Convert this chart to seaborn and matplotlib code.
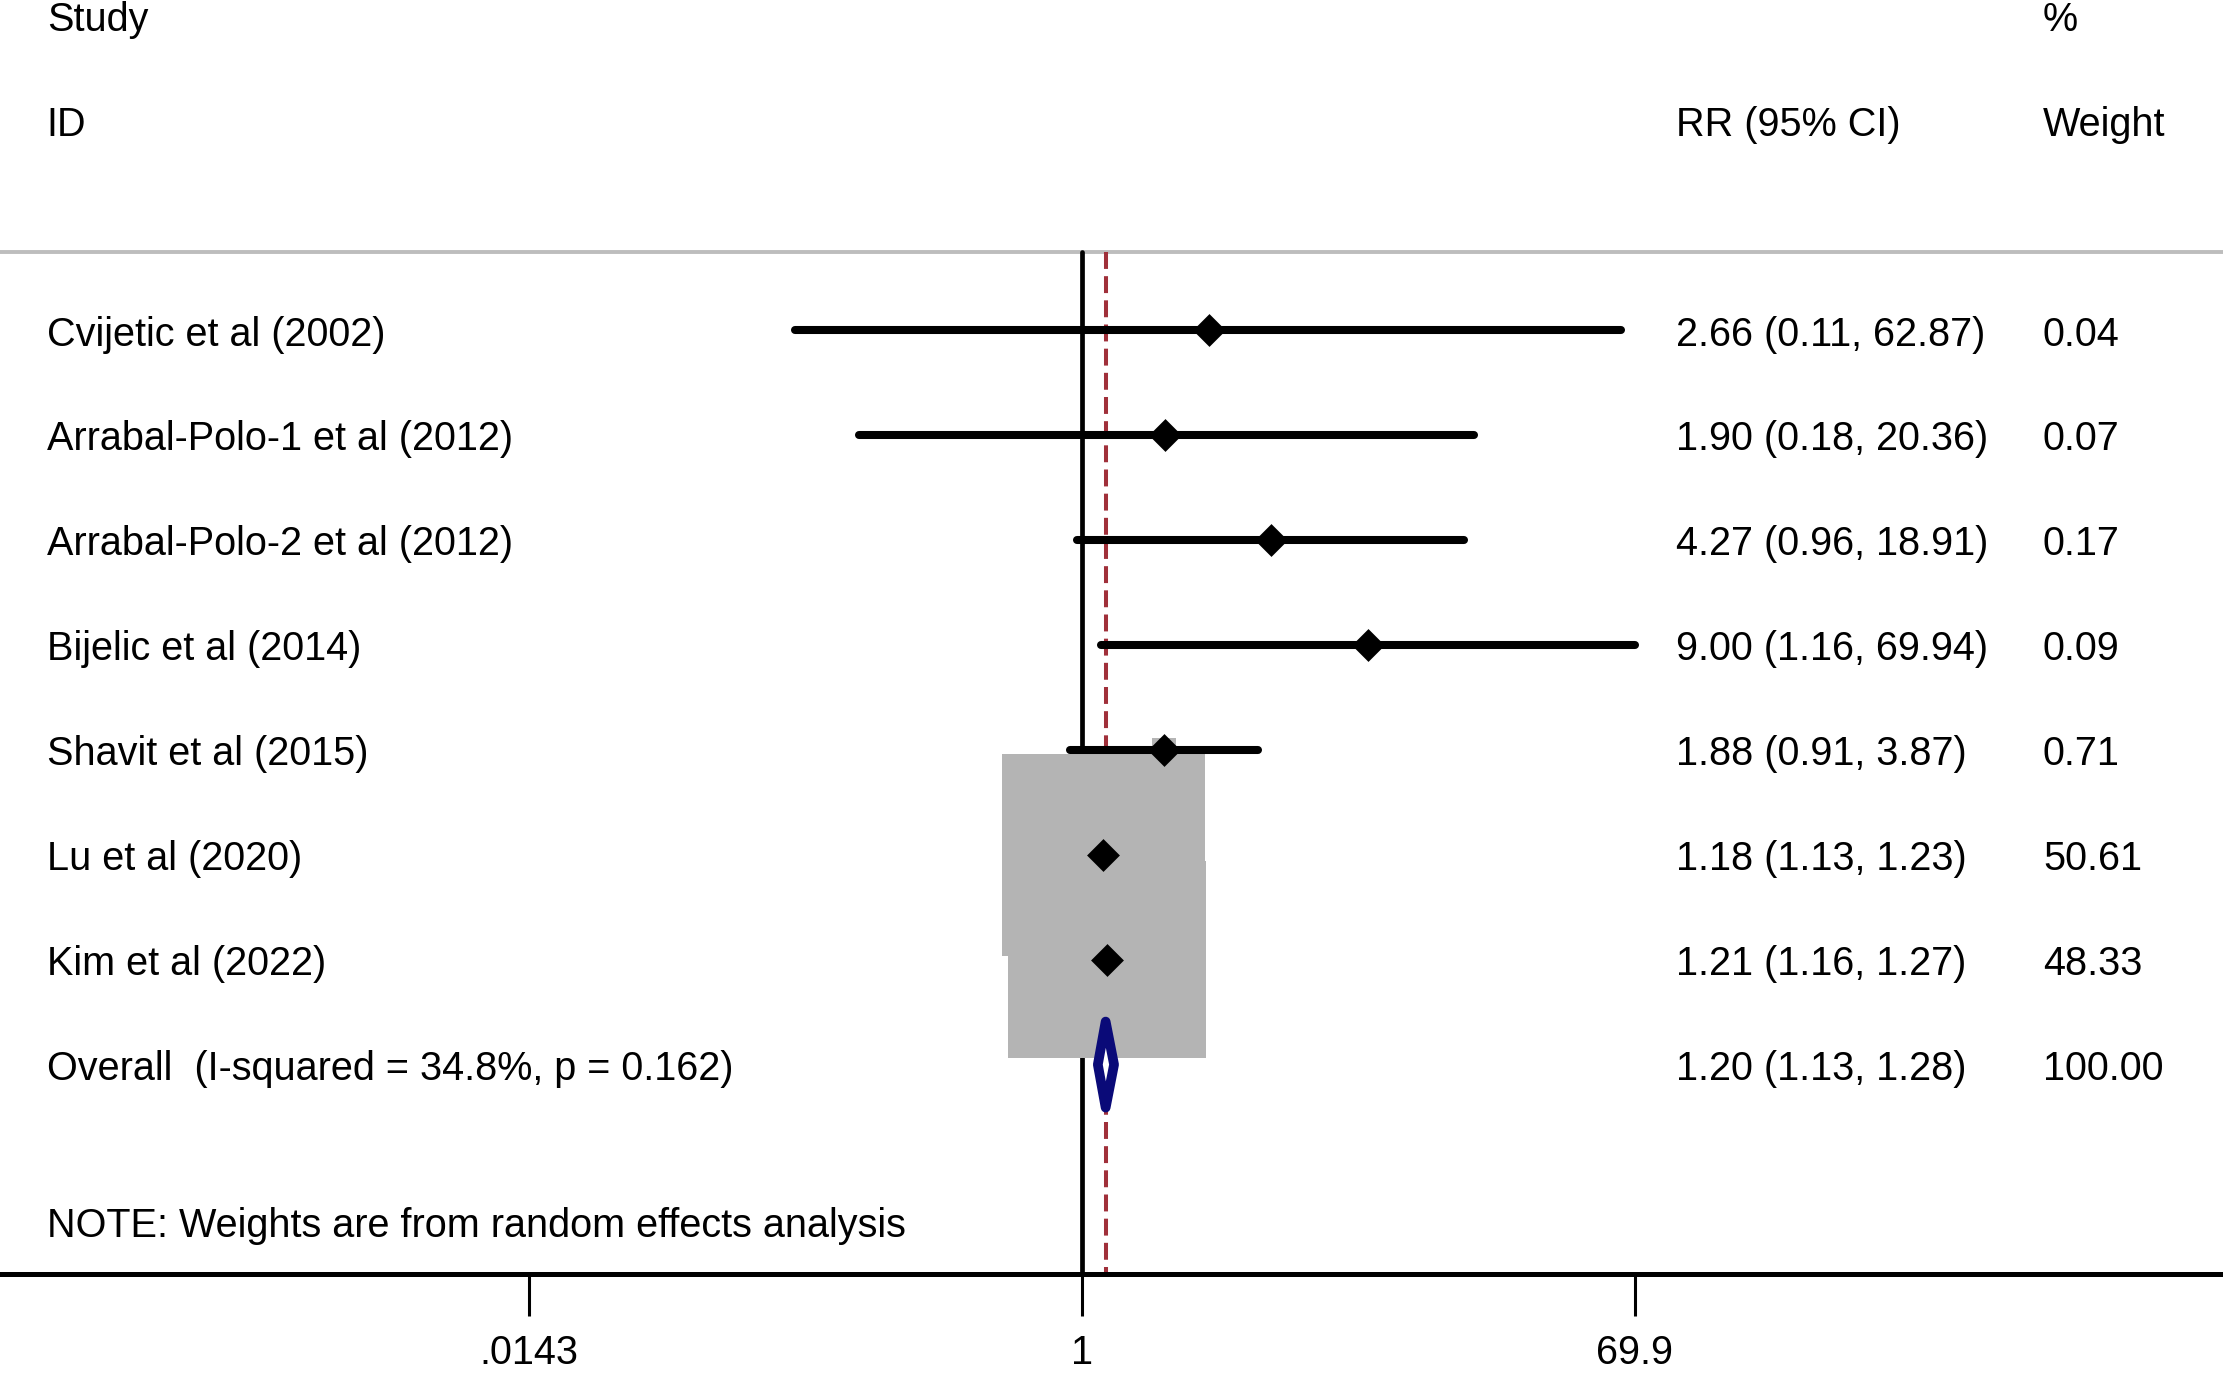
import numpy as np
import pandas as pd
import seaborn as sns
import matplotlib.pyplot as plt
from matplotlib.patches import Rectangle
from matplotlib.transforms import blended_transform_factory

studies = [
    "Cvijetic et al (2002)",
    "Arrabal-Polo-1 et al (2012)",
    "Arrabal-Polo-2 et al (2012)",
    "Bijelic et al (2014)",
    "Shavit et al (2015)",
    "Lu et al (2020)",
    "Kim et al (2022)",
]
rr = [2.66, 1.90, 4.27, 9.00, 1.88, 1.18, 1.21]
ci_low = [0.11, 0.18, 0.96, 1.16, 0.91, 1.13, 1.16]
ci_high = [62.87, 20.36, 18.91, 69.94, 3.87, 1.23, 1.27]
weights = [0.04, 0.07, 0.17, 0.09, 0.71, 50.61, 48.33]

overall_label = "Overall  (I-squared = 34.8%, p = 0.162)"
overall_rr = 1.20
overall_low = 1.13
overall_high = 1.28
overall_weight = 100.00

tick_values = [0.0143, 1, 69.9]
tick_labels = [".0143", "1", "69.9"]
note = "NOTE: Weights are from random effects analysis"

df = pd.DataFrame({"study": studies, "rr": rr, "lo": ci_low, "hi": ci_high, "w": weights})
df["row"] = np.arange(len(df))
overall_row = len(df)

sns.set_theme(style="white")
plt.rcParams["font.family"] = ["Liberation Sans", "DejaVu Sans"]
plt.rcParams["text.color"] = "black"
FS = 28.5
DY = 0.04  # text sits a hair below the marker row

fig = plt.figure(figsize=(22.23, 13.74), dpi=100)
ax = fig.add_axes([0, 0, 1, 1])
ax.set_xscale("log")
ax.set_xlim(2.45e-4, 6430)
ax.set_ylim(9.95, -3.15)

# weight boxes (area ~ weight)
wmax = max(weights)
for _, r in df.iterrows():
    f = np.sqrt(r["w"] / wmax)
    hw = 0.779 * f
    hh = 0.96 * f
    x0 = r["rr"] * np.exp(-hw)
    x1 = r["rr"] * np.exp(hw)
    ax.add_patch(Rectangle((x0, r["row"] - hh), x1 - x0, 2 * hh,
                           facecolor="#b4b4b4", edgecolor="none", zorder=3))

# reference lines
ax.plot([1, 1], [-0.75, 9], color="black", lw=3.4, zorder=2)
ax.plot([overall_rr, overall_rr], [-0.75, 9], color="#a0303a", lw=2.9,
        linestyle=(0, (4.2, 1.8)), zorder=2)
ax.axhline(-0.75, color="#bdbdbd", lw=2.8, zorder=1)

# confidence intervals + point estimates
ax.hlines(df["row"], df["lo"], df["hi"], color="black", lw=5.8, capstyle="round", zorder=4)
sns.scatterplot(data=df, x="rr", y="row", marker="D", s=280, color="black",
                edgecolor="black", linewidth=0, ax=ax, zorder=5, legend=False)

# overall diamond
dh = 0.41
ax.fill([overall_low, overall_rr, overall_high, overall_rr],
        [overall_row, overall_row - dh, overall_row, overall_row + dh],
        facecolor="white", edgecolor="#0a0a78", lw=7, joinstyle="round", zorder=6)

# text columns
tr = blended_transform_factory(ax.transAxes, ax.transData)
x_lab, x_rr, x_w = 0.021, 0.7538, 0.919


def put(x, y, s):
    ax.text(x, y + DY, s, transform=tr, fontsize=FS, va="center", color="black")


put(x_lab, -3, "Study")
put(x_lab, -2, "ID")
put(x_rr, -2, "RR (95% CI)")
put(x_w, -3, "%")
put(x_w, -2, "Weight")

for _, r in df.iterrows():
    put(x_lab, r["row"], r["study"])
    put(x_rr, r["row"], f"{r['rr']:.2f} ({r['lo']:.2f}, {r['hi']:.2f})")
    put(x_w, r["row"], f"{r['w']:.2f}")

put(x_lab, overall_row, overall_label)
put(x_rr, overall_row, f"{overall_rr:.2f} ({overall_low:.2f}, {overall_high:.2f})")
put(x_w, overall_row, f"{overall_weight:.2f}")
put(x_lab, 8.5, note)

# x axis
for s in ["top", "left", "right"]:
    ax.spines[s].set_visible(False)
ax.spines["bottom"].set_position(("data", 9))
ax.spines["bottom"].set_linewidth(3.6)
ax.spines["bottom"].set_color("black")
ax.set_xticks(tick_values)
ax.set_xticklabels(tick_labels)
ax.minorticks_off()
ax.tick_params(axis="x", bottom=True, length=30, width=2.2, pad=13,
               labelsize=FS, colors="black")
ax.set_yticks([])
ax.set_xlabel("")
ax.set_ylabel("")

fig.savefig("out.png", dpi=100)
